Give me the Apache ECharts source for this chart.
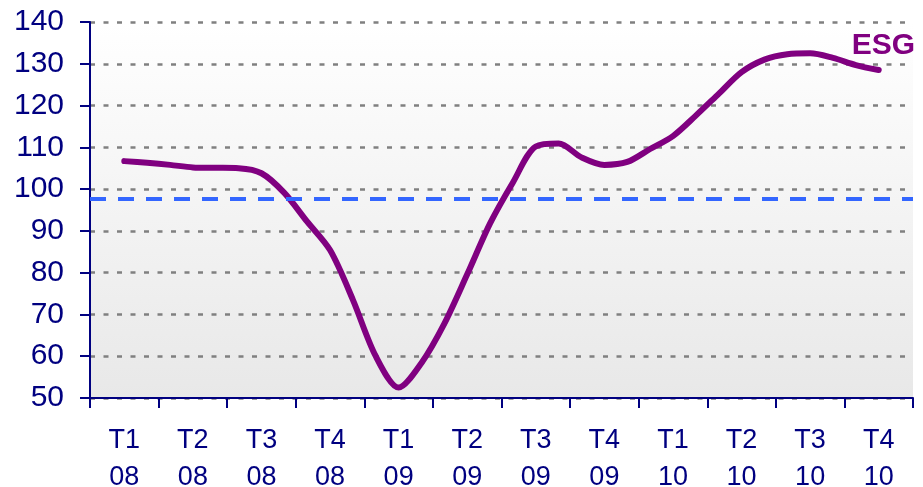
<!DOCTYPE html>
<html>
<head>
<meta charset="utf-8">
<script src="https://cdn.jsdelivr.net/npm/echarts@6/dist/echarts.min.js"></script>
<style>
html, body { margin: 0; padding: 0; background: #fff; }
#chart { width: 923px; height: 487px; }
</style>
</head>
<body>
<div id="chart"></div>
<script>
// trimestres affichés sur l'axe
var quarters = ['T1\n08', 'T2\n08', 'T3\n08', 'T4\n08',
                'T1\n09', 'T2\n09', 'T3\n09', 'T4\n09',
                'T1\n10', 'T2\n10', 'T3\n10', 'T4\n10'];
// mois (3 par trimestre) pour placer la courbe
var years = ['2008', '2009', '2010'];
var months = [];
years.forEach(function (y) {
    for (var m = 1; m <= 12; m++) {
        months.push(y + '-' + (m < 10 ? '0' + m : m));
    }
});
// indicateur ESG mensuel
var esg = [null,
    106.7, 106.3, 105.8, 105.2, 105.1, 105.0, 103.8, 99.1, 92.2, 85.4,
    73.5, 60.0, 52.5, 58.4, 67.8, 79.6, 91.8, 101.6, 110.2, 110.9,
    107.6, 105.8, 106.5, 109.6, 112.7, 117.6, 122.8, 128.0, 131.0, 132.3,
    132.5, 131.4, 129.7, 128.5,
    null];
// moyenne de long terme (ligne pointillée bleue)
var baseline = 97.6;
var yTicks = { min: 50, max: 140, interval: 10 };

var navy = '#000080';
var font = "'Liberation Sans', Arial, sans-serif";

var myChart = echarts.init(document.getElementById('chart'));
var option = {
    animation: false,
    title: {
        text: 'ESG',
        right: 3,
        top: 26,
        textStyle: {
            color: '#800080',
            fontSize: 30,
            fontWeight: 'bold',
            fontFamily: font
        }
    },
    grid: {
        left: 90,
        right: 10,
        top: 22,
        bottom: 89,
        outerBoundsMode: 'none',
        containLabel: false,
        show: true,
        borderWidth: 0,
        backgroundColor: {
            type: 'linear', x: 0, y: 0, x2: 0, y2: 1,
            colorStops: [
                { offset: 0, color: '#ffffff' },
                { offset: 1, color: '#e8e8e8' }
            ]
        }
    },
    xAxis: [{
        type: 'category',
        data: quarters,
        boundaryGap: true,
        axisLine: { lineStyle: { color: navy, width: 2 } },
        axisTick: { show: true, length: 10, lineStyle: { color: navy, width: 2 } },
        axisLabel: {
            color: navy,
            fontSize: 27,
            lineHeight: 37,
            fontFamily: font,
            margin: 24,
            interval: 0
        },
        splitLine: { show: false }
    }, {
        type: 'category',
        data: months,
        boundaryGap: true,
        show: false
    }],
    yAxis: {
        type: 'value',
        min: yTicks.min,
        max: yTicks.max,
        interval: yTicks.interval,
        axisLine: { show: true, lineStyle: { color: navy, width: 2 } },
        axisTick: { show: true, length: 10, lineStyle: { color: navy, width: 2 } },
        axisLabel: {
            color: navy,
            fontSize: 30,
            fontFamily: font,
            margin: 26
        },
        splitLine: {
            show: true,
            lineStyle: { color: '#808080', width: 2.5, type: [5, 8.5] }
        }
    },
    series: [{
        name: 'ESG',
        type: 'line',
        xAxisIndex: 1,
        data: esg,
        smooth: 0.3,
        symbol: 'none',
        lineStyle: { color: '#800080', width: 6, cap: 'round', join: 'round' },
        markLine: {
            silent: true,
            symbol: 'none',
            label: { show: false },
            lineStyle: { color: '#3366ff', width: 4, type: [16, 12] },
            data: [{ yAxis: baseline }]
        }
    }]
};
myChart.setOption(option);
</script>
</body>
</html>
